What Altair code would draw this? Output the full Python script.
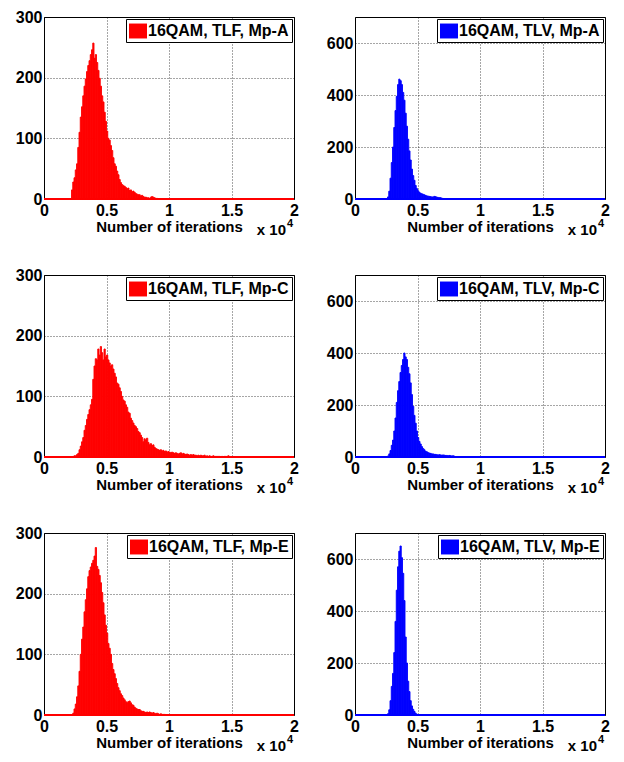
import altair as alt
import pandas as pd

FONT = "Liberation Sans"
BIN = 100  # histogram bin width (iterations)
XMAX = 20000

# ---- histogram counts (bins of 100 iterations, starting at *_start) ----
tlf_a_start = 2200
tlf_a = [15, 28, 35, 48, 58, 85, 110, 135, 152, 170, 186, 198, 210, 220, 228, 238,
         246, 257, 232, 238, 225, 212, 199, 186, 170, 160, 143, 128, 112, 100, 97, 88,
         80, 68, 58, 54, 46, 40, 32, 27, 24, 22, 21, 19, 17, 18, 14, 15, 12, 13, 11, 9,
         8, 7, 7, 5, 6, 4, 3, 3, 2, 2, 1, 3, 4, 3, 2, 1, 1]

tlv_a_start = 2600
tlv_a = [8, 30, 80, 140, 200, 275, 340, 395, 440, 461, 455, 440, 410, 380, 330, 280,
         230, 185, 150, 115, 90, 72, 52, 40, 32, 26, 22, 20, 18, 16, 14, 12, 11, 10, 9,
         8, 8, 10, 9, 7, 6, 5, 5, 3, 2]

tlf_c_start = 2300
tlf_c = [1, 2, 2, 4, 6, 12, 18, 25, 32, 44, 52, 62, 70, 78, 86, 95, 128, 150, 162, 160,
         178, 168, 182, 172, 160, 178, 165, 168, 160, 155, 150, 152, 145, 138, 132, 122,
         120, 114, 108, 100, 94, 92, 86, 82, 74, 72, 64, 60, 56, 52, 50, 47, 42, 40, 36,
         32, 25, 30, 28, 31, 24, 20, 22, 19, 20, 16, 14, 13, 12, 11, 12, 10, 11, 9, 10, 8,
         9, 8, 7, 8, 7, 6, 7, 6, 5, 6, 7, 5, 6, 5, 4, 5, 4, 3, 4, 3, 4, 3, 3, 2, 3, 2, 3,
         2, 2, 3, 1, 2, 1, 2, 1, 1, 2, 1, 1, 1, 1, 1, 0, 1, 0, 1, 1, 0, 2, 1]

tlv_c_start = 2600
tlv_c = [4, 12, 25, 45, 65, 100, 150, 210, 255, 290, 325, 352, 375, 400, 385, 375, 345,
         320, 285, 240, 195, 160, 130, 100, 75, 60, 50, 40, 33, 28, 22, 20, 17, 15, 14,
         12, 12, 10, 10, 9, 8, 9, 8, 7, 8, 7, 6, 6, 5, 6, 5, 4, 5, 3]

tlf_e_start = 2300
tlf_e = [3, 10, 18, 30, 48, 72, 100, 125, 145, 170, 190, 208, 228, 238, 244, 250, 255,
         262, 276, 245, 240, 230, 218, 202, 185, 165, 148, 135, 118, 110, 100, 85, 75,
         68, 60, 52, 45, 40, 35, 32, 28, 25, 22, 20, 22, 23, 20, 17, 16, 13, 11, 10, 9,
         9, 7, 6, 6, 5, 4, 5, 4, 5, 4, 3, 4, 3, 2, 3, 2, 1, 2, 1, 1, 1]

tlv_e_start = 2600
tlv_e = [5, 20, 55, 110, 160, 240, 360, 480, 570, 630, 650, 605, 545, 440, 300, 200,
         130, 90, 55, 35, 22, 14, 7, 3]

labels = ["16QAM, TLF, Mp-A", "16QAM, TLV, Mp-A",
          "16QAM, TLF, Mp-C", "16QAM, TLV, Mp-C",
          "16QAM, TLF, Mp-E", "16QAM, TLV, Mp-E"]
x_ticks = [0, 5000, 10000, 15000, 20000]
left_y_ticks = [0, 100, 200, 300]
right_y_ticks = [0, 200, 400, 600]

W, H = 250, 182


def hist_df(start, counts, label):
    lo = [start + i * BIN for i in range(len(counts))]
    return pd.DataFrame({"lo": lo, "hi": [v + BIN for v in lo],
                         "count": counts, "base": [0] * len(counts),
                         "series": label})


def panel(start, counts, label, color, ymax, yticks):
    df = hist_df(start, counts, label)
    x = alt.X("lo:Q", scale=alt.Scale(domain=[0, XMAX], nice=False, zero=False),
              axis=alt.Axis(values=x_ticks, labelExpr="datum.value / 10000",
                            title="Number of iterations", titleFont=FONT,
                            titleFontSize=15, titleFontWeight="bold",
                            titleColor="black", titlePadding=1,
                            labelFont=FONT, labelFontSize=16, labelFontWeight="bold",
                            labelColor="black", labelPadding=3, ticks=False,
                            domain=False, grid=True, gridColor="black",
                            gridDash=[1, 2], gridOpacity=0.7, labelFlush=False))
    y = alt.Y("count:Q", scale=alt.Scale(domain=[0, ymax], nice=False),
              axis=alt.Axis(values=yticks, title=None, labelFont=FONT,
                            labelFontSize=16, labelFontWeight="bold",
                            labelColor="black", labelPadding=2, ticks=False,
                            domain=False, grid=True, gridColor="black",
                            gridDash=[1, 2], gridOpacity=0.7, labelFlush=False))
    color_enc = alt.Color("series:N",
                          scale=alt.Scale(domain=[label], range=[color]),
                          legend=alt.Legend(orient="top-right", title=None, offset=2,
                                            padding=3, strokeColor="black",
                                            fillColor="white",
                                            symbolType="M-1,-0.83H1V0.83H-1Z",
                                            symbolSize=324, symbolStrokeWidth=0,
                                            symbolOpacity=1,
                                            labelFont=FONT, labelFontSize=16,
                                            labelFontWeight="bold", labelColor="black",
                                            labelOffset=1, labelLimit=300))
    bars = alt.Chart(df).mark_rect(stroke=color, strokeWidth=0.9).encode(
        x=x, x2="hi:Q", y=y, y2="base:Q", color=color_enc)
    base_df = pd.DataFrame({"x0": [0], "x1": [XMAX], "y0": [0]})
    baseline = alt.Chart(base_df).mark_rule(color=color, strokeWidth=2).encode(
        x="x0:Q", x2="x1:Q", y="y0:Q")
    note_df = pd.DataFrame({"t": ["x 10"]})
    mult = alt.Chart(note_df).mark_text(font=FONT, fontSize=15, fontWeight="bold",
                                        color="black", align="right",
                                        baseline="alphabetic").encode(
        x=alt.value(W - 8), y=alt.value(H + 36), text="t:N")
    exp_df = pd.DataFrame({"t": ["4"]})
    expo = alt.Chart(exp_df).mark_text(font=FONT, fontSize=11, fontWeight="bold",
                                       color="black", align="left",
                                       baseline="alphabetic").encode(
        x=alt.value(W - 7), y=alt.value(H + 28), text="t:N")
    return alt.layer(bars, baseline, mult, expo).properties(width=W, height=H)


p1 = panel(tlf_a_start, tlf_a, labels[0], "#ff0000", 300, left_y_ticks)
p2 = panel(tlv_a_start, tlv_a, labels[1], "#0000ff", 700, right_y_ticks)
p3 = panel(tlf_c_start, tlf_c, labels[2], "#ff0000", 300, left_y_ticks)
p4 = panel(tlv_c_start, tlv_c, labels[3], "#0000ff", 700, right_y_ticks)
p5 = panel(tlf_e_start, tlf_e, labels[4], "#ff0000", 300, left_y_ticks)
p6 = panel(tlv_e_start, tlv_e, labels[5], "#0000ff", 700, right_y_ticks)


def row(a, b):
    return alt.hconcat(a, b, spacing=26).resolve_scale(color="independent")


chart = alt.vconcat(row(p1, p2), row(p3, p4), row(p5, p6), spacing=27).resolve_scale(
    color="independent").properties(
    padding={"left": 6, "top": 0, "right": 2, "bottom": 0},
    background="white").configure_view(stroke="black", strokeWidth=1)

chart.save("out.html", embed_options={"renderer": "svg", "actions": False})
